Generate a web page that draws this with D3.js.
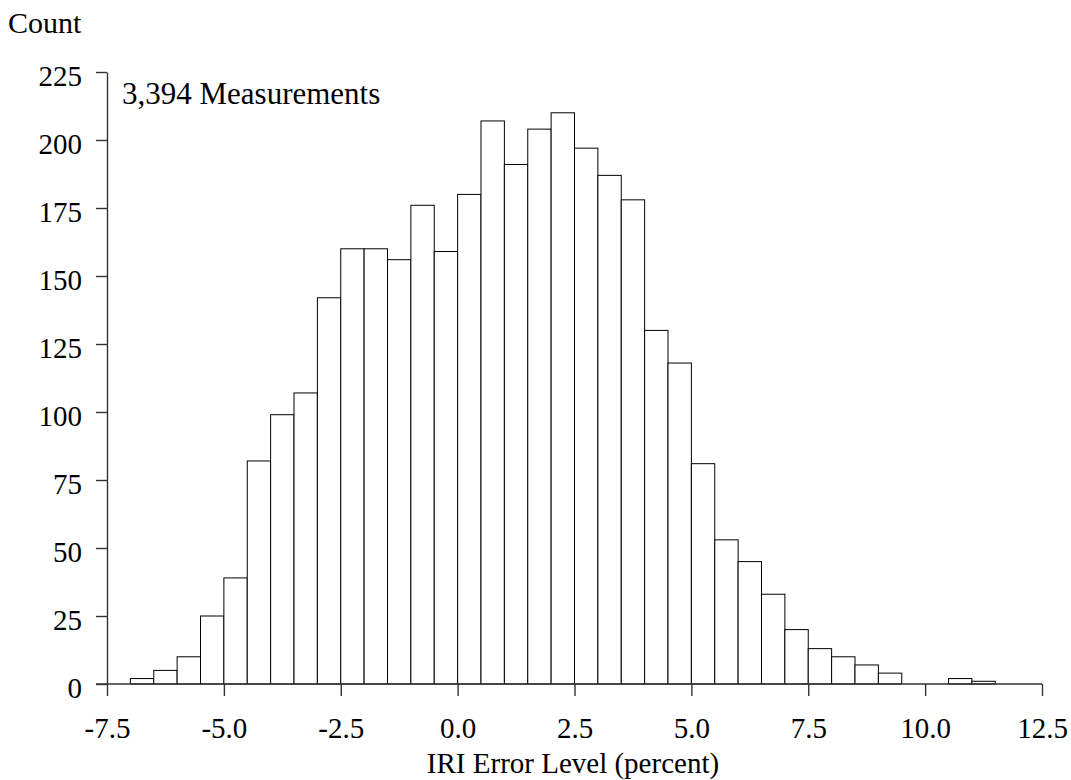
<!DOCTYPE html>
<html>
<head>
<meta charset="utf-8">
<script src="https://cdn.jsdelivr.net/npm/d3@7"></script>
<style>
    body { margin: 0; background: #fff; }
    svg text { font-family: "Liberation Serif", "Times New Roman", serif; fill: #000; }
    .bar { fill: #fff; stroke: #000; stroke-width: 1; }
    .axis path, .axis line { stroke: #333; stroke-width: 1.4; }
</style>
</head>
<body>
<svg id="canvas" width="1071" height="780"></svg>
<script>
// bin start (percent), each bin 0.5 wide
const binStarts = [-7.0, -6.5, -6.0, -5.5, -5.0, -4.5, -4.0, -3.5, -3.0, -2.5,
    -2.0, -1.5, -1.0, -0.5, 0.0, 0.5, 1.0, 1.5, 2.0, 2.5,
    3.0, 3.5, 4.0, 4.5, 5.0, 5.5, 6.0, 6.5, 7.0, 7.5,
    8.0, 8.5, 9.0, 9.5, 10.0, 10.5, 11.0];
const counts = [2, 5, 10, 25, 39, 82, 99, 107, 142, 160,
    160, 156, 176, 159, 180, 207, 191, 204, 210, 197,
    187, 178, 130, 118, 81, 53, 45, 33, 20, 13,
    10, 7, 4, 0, 0, 2, 1];
const binWidth = 0.5;

const xTicks = [-7.5, -5.0, -2.5, 0.0, 2.5, 5.0, 7.5, 10.0, 12.5];
const yTicks = [0, 25, 50, 75, 100, 125, 150, 175, 200, 225];

const svg = d3.select("#canvas");

const x = d3.scaleLinear().domain([-7.5, 12.5]).range([107, 1042]);
const y = d3.scaleLinear().domain([0, 225]).range([684, 72]);

const bins = binStarts.map((b, i) => ({ x0: b, x1: b + binWidth, n: counts[i] }));

// Bars
svg.selectAll("rect.bar")
    .data(bins.filter(d => d.n > 0))
    .enter()
    .append("rect")
    .attr("class", "bar")
    .attr("x", d => x(d.x0))
    .attr("width", d => x(d.x1) - x(d.x0))
    .attr("y", d => y(d.n))
    .attr("height", d => y(0) - y(d.n));

// X axis
const xAxis = svg.append("g")
    .attr("class", "axis")
    .attr("transform", `translate(0,${y(0)})`)
    .call(d3.axisBottom(x)
        .tickValues(xTicks)
        .tickSize(12)
        .tickSizeOuter(0)
        .tickFormat(d => d.toFixed(1)));
xAxis.select(".domain").attr("d", `M${x(-7.5) - 11},0H${x(12.5)}`);
xAxis.selectAll("text")
    .attr("y", 54)
    .attr("dy", 0)
    .style("font-size", "29px")
    .style("font-family", "Liberation Serif, serif");

// Y axis
const yAxis = svg.append("g")
    .attr("class", "axis")
    .attr("transform", `translate(${x(-7.5)},0)`)
    .call(d3.axisLeft(y)
        .tickValues(yTicks)
        .tickSize(11)
        .tickSizeOuter(0)
        .tickPadding(14));
yAxis.selectAll("text")
    .attr("dy", "0.47em")
    .style("font-size", "29px")
    .style("font-family", "Liberation Serif, serif");

// Labels
svg.append("text")
    .attr("x", 8)
    .attr("y", 33)
    .style("font-size", "30px")
    .text("Count");

svg.append("text")
    .attr("x", 122)
    .attr("y", 104)
    .style("font-size", "31px")
    .text("3,394 Measurements");

svg.append("text")
    .attr("x", 573)
    .attr("y", 773)
    .attr("text-anchor", "middle")
    .style("font-size", "29px")
    .text("IRI Error Level (percent)");
</script>
</body>
</html>
